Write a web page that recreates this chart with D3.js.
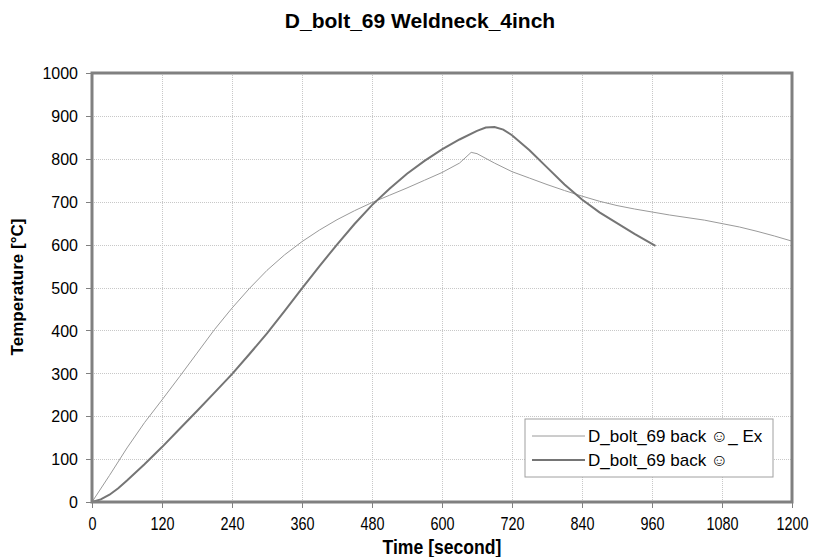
<!DOCTYPE html>
<meta charset="utf-8">
<script src="https://d3js.org/d3.v7.min.js"></script>
<style>
    body { margin: 0; background: #fff; font-family: Arial, "Liberation Sans", sans-serif; }
    .grid line { stroke: #c8c8c8; stroke-dasharray: 1,1; shape-rendering: crispEdges; }
    .grid path { stroke-width: 0; }
    .axis path { display: none; }
    .axis line { stroke: #808080; shape-rendering: crispEdges; }
</style>
<div id="viz_area"></div>
<script>
    // time [s] and temperature [°C]
    var exTime = [0, 30, 60, 90, 120, 150, 180, 210, 240, 270, 300, 330, 360, 390, 420, 450, 480, 510, 540, 570, 600, 630, 650, 660, 690, 720, 750, 780, 810, 840, 870, 900, 930, 960, 990, 1020, 1050, 1080, 1110, 1140, 1170, 1200]
    var exTemp = [0, 62, 126, 185, 238, 292, 347, 402, 452, 498, 540, 576, 607, 634, 658, 679, 698, 715, 732, 750, 768, 790, 815, 812, 790, 770, 755, 740, 726, 713, 701, 691, 683, 676, 669, 663, 657, 649, 641, 631, 620, 608]
    var simTime = [0, 15, 30, 45, 60, 90, 120, 150, 180, 210, 240, 270, 300, 330, 360, 390, 420, 450, 480, 510, 540, 570, 600, 630, 660, 675, 690, 705, 720, 750, 780, 810, 840, 870, 900, 930, 966]
    var simTemp = [0, 6, 17, 32, 50, 88, 128, 170, 212, 255, 298, 345, 393, 445, 498, 550, 600, 648, 692, 730, 765, 795, 822, 845, 865, 873, 874, 868, 855, 820, 780, 740, 705, 675, 650, 625, 597]
    var xTicks = [0, 120, 240, 360, 480, 600, 720, 840, 960, 1080, 1200]
    var yTicks = [0, 100, 200, 300, 400, 500, 600, 700, 800, 900, 1000]
    var seriesNames = ["D_bolt_69 back \u263A_ Ex", "D_bolt_69 back \u263A"]

    var margin = { left: 92, top: 73, right: 23, bottom: 55 }
    var w = 815 - margin.left - margin.right
    var h = 557 - margin.top - margin.bottom

    var svgRoot = d3.select("#viz_area").append("svg")
        .attr("width", 815).attr("height", 557)
    var svG = svgRoot.append("g")
        .attr("transform", "translate(" + margin.left + "," + margin.top + ")")

    var x = d3.scaleLinear().domain([0, 1200]).range([0, w])
    var y = d3.scaleLinear().domain([0, 1000]).range([h, 0])

    // grid
    svG.append("g").attr("class", "grid")
        .attr("transform", "translate(0," + h + ")")
        .call(d3.axisBottom(x).tickValues(xTicks).tickSize(-h).tickFormat(""))
    svG.append("g").attr("class", "grid")
        .call(d3.axisLeft(y).tickValues(yTicks).tickSize(-w).tickFormat(""))

    // axes
    var xAxis = svG.append("g").attr("class", "axis")
        .attr("transform", "translate(0," + h + ")")
        .call(d3.axisBottom(x).tickValues(xTicks).tickSize(6).tickPadding(9).tickFormat(d3.format("d")))
    xAxis.selectAll("text")
        .attr("font-family", "Arial, 'Liberation Sans', sans-serif")
        .attr("font-size", "18px").attr("fill", "#000")
        .attr("transform", "scale(0.8,1)")
    var yAxis = svG.append("g").attr("class", "axis")
        .call(d3.axisLeft(y).tickValues(yTicks).tickSize(6).tickPadding(8).tickFormat(d3.format("d")))
    yAxis.selectAll("text")
        .attr("font-family", "Arial, 'Liberation Sans', sans-serif")
        .attr("font-size", "16px").attr("fill", "#000").attr("dy", "0.36em")

    // lines
    var line = d3.line().x(function(d) { return x(d[0]) }).y(function(d) { return y(d[1]) })
    var exData = exTime.map(function(t, i) { return [t, exTemp[i]] })
    var simData = simTime.map(function(t, i) { return [t, simTemp[i]] })
    svG.append("path").datum(exData).attr("d", line)
        .attr("fill", "none").attr("stroke", "#9a9a9a").attr("stroke-width", 1)
    svG.append("path").datum(simData).attr("d", line)
        .attr("fill", "none").attr("stroke", "#757575").attr("stroke-width", 2)

    // frame
    svG.append("rect").attr("x", 0).attr("y", 0).attr("width", w).attr("height", h)
        .attr("fill", "none").attr("stroke", "#808080").attr("stroke-width", 3)

    // legend
    var lg = svgRoot.append("g").attr("transform", "translate(525,419)")
    lg.append("rect").attr("width", 248).attr("height", 58)
        .attr("fill", "#fff").attr("stroke", "#a0a0a0").attr("stroke-width", 1)
    var legendStyles = [{ c: "#9a9a9a", sw: 1 }, { c: "#757575", sw: 2 }]
    seriesNames.forEach(function(n, i) {
        var yy = 17 + i * 24
        lg.append("line").attr("x1", 7).attr("x2", 60).attr("y1", yy).attr("y2", yy)
            .attr("stroke", legendStyles[i].c).attr("stroke-width", legendStyles[i].sw)
        lg.append("text").attr("x", 63).attr("y", yy).attr("dy", "0.36em")
            .attr("font-size", "17px").attr("fill", "#000")
            .attr("font-family", "Arial, 'Liberation Sans', sans-serif")
            .text(n)
    })

    // titles
    svgRoot.append("text").attr("x", 420).attr("y", 28).attr("text-anchor", "middle")
        .attr("font-size", "21px").attr("font-weight", "bold").text("D_bolt_69 Weldneck_4inch")
    svgRoot.append("text").attr("transform", "translate(442,554) scale(0.88,1)")
        .attr("text-anchor", "middle")
        .attr("font-size", "20px").attr("font-weight", "bold").text("Time [second]")
    svgRoot.append("text").attr("transform", "translate(23,287) rotate(-90)")
        .attr("text-anchor", "middle").attr("font-size", "17px").attr("font-weight", "bold")
        .text("Temperature [°C]")
</script>
